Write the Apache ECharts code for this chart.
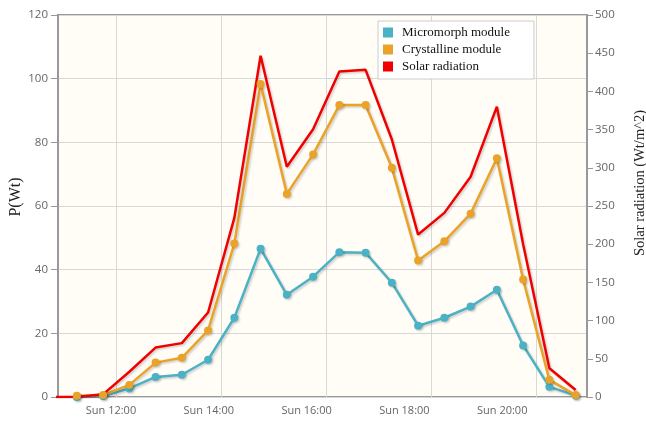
<!DOCTYPE html>
<html>
<head>
<meta charset="utf-8">
<script src="https://cdn.jsdelivr.net/npm/echarts@6/dist/echarts.min.js"></script>
<style>
  html, body { margin: 0; padding: 0; background: #fff; }
  #chart { width: 646px; height: 421px; }
</style>
</head>
<body>
<div id="chart"></div>
<script>
// readings every half hour (Sunday)
var times = ['10:45', '11:15', '11:45', '12:15', '12:45', '13:15', '13:45', '14:15', '14:45', '15:15', '15:45',
    '16:15', '16:45', '17:15', '17:45', '18:15', '18:45', '19:15', '19:45', '20:15', '20:45'];
var micromorph = [null, 0, 0.3, 2.7, 6.3, 7.0, 11.7, 24.9, 46.6, 32.1, 37.8, 45.5, 45.3, 35.9, 22.4, 24.9, 28.4, 33.7, 16.2, 3.2, 0.5];
var crystalline = [null, 0.4, 0.6, 3.8, 10.8, 12.3, 20.9, 48.2, 98.3, 63.8, 76.2, 91.7, 91.7, 72.0, 42.9, 48.9, 57.6, 75.0, 36.9, 5.4, 0.6];
var radiation = [0, 0, 3.5, 33, 64.7, 70.5, 110.6, 234.5, 446.6, 301.4, 350.4, 426, 428.2, 337, 212.6, 241, 288.3, 380, 200, 37.6, 9.2];
var powerTicks = [0, 120, 20];
var radTicks = [0, 500, 50];

function t(hm, sec) {
    var p = hm.split(':');
    return new Date(2024, 0, 7, +p[0], +p[1], sec || 0).getTime();
}
function pairs(vals) {
    return times.map(function (tm, i) { return [t(tm), vals[i]]; });
}
function pad(n) { return n < 10 ? '0' + n : '' + n; }

var myChart = echarts.init(document.getElementById('chart'));
var lineShadow = { shadowColor: 'rgba(0,0,0,0.18)', shadowOffsetX: 1.5, shadowOffsetY: 1.5, shadowBlur: 2 };

var option = {
    backgroundColor: '#fff',
    animation: false,
    grid: {
        left: 58, right: 59, top: 15, bottom: 24,
        outerBoundsMode: 'none',
        containLabel: false,
        show: true, backgroundColor: '#fffdf6', borderColor: '#999', borderWidth: 2
    },
    legend: {
        orient: 'vertical',
        left: 378, top: 21,
        padding: [5, 24, 6, 5],
        itemGap: 4,
        itemWidth: 10, itemHeight: 10,
        icon: 'rect',
        backgroundColor: '#fff',
        borderColor: '#ccc', borderWidth: 1,
        textStyle: { fontFamily: 'Liberation Serif', fontSize: 13, color: '#111', padding: [0, 0, 0, 4] },
        data: ['Micromorph module', 'Crystalline module', 'Solar radiation']
    },
    xAxis: [{
        type: 'time',
        min: t('10:53', 30), max: t('20:58'),
        minInterval: 2.5 * 3600000, maxInterval: 2.5 * 3600000,
        axisLine: { show: false },
        axisTick: { show: false },
        axisLabel: { show: false },
        splitLine: { show: true, lineStyle: { color: '#d8d8d8', width: 1 } }
    }, {
        // label row (sits slightly apart from the grid lines, as in the source)
        type: 'time',
        position: 'bottom',
        min: t('10:55'), max: t('21:44'),
        minInterval: 2.5 * 3600000, maxInterval: 2.5 * 3600000,
        axisLine: { show: false },
        axisTick: { show: false },
        splitLine: { show: false },
        axisLabel: {
            showMinLabel: false, showMaxLabel: false,
            margin: 8,
            fontFamily: 'Open Sans', fontSize: 11, color: '#666',
            formatter: function (v) {
                var d = new Date(v);
                return 'Sun ' + pad(d.getHours()) + ':' + pad(d.getMinutes());
            }
        }
    }],
    yAxis: [{
        type: 'value',
        min: powerTicks[0], max: powerTicks[1], interval: powerTicks[2],
        name: 'P(Wt)',
        nameLocation: 'middle',
        nameRotate: 90,
        nameGap: 34,
        nameMoveOverlap: false,
        nameTextStyle: { fontFamily: 'Liberation Serif', fontSize: 16, color: '#222', padding: [0, 0, 0, 18] },
        axisLine: { show: true, lineStyle: { color: '#999', width: 2 } },
        axisTick: { show: true, length: 7, lineStyle: { color: '#999' } },
        axisLabel: { margin: 10, fontFamily: 'Open Sans', fontSize: 11.5, color: '#666' },
        splitLine: { show: true, lineStyle: { color: '#d8d8d8', width: 1 } }
    }, {
        type: 'value',
        position: 'right',
        min: radTicks[0], max: radTicks[1], interval: radTicks[2],
        name: 'Solar radiation (Wt/m^2)',
        nameLocation: 'middle',
        nameRotate: 90,
        nameGap: 46,
        nameMoveOverlap: false,
        nameTextStyle: { fontFamily: 'Liberation Serif', fontSize: 14.5, color: '#222', padding: [0, 0, 0, 46] },
        axisLine: { show: true, lineStyle: { color: '#999', width: 2 } },
        axisTick: { show: true, length: 6, lineStyle: { color: '#999' } },
        axisLabel: { margin: 8, fontFamily: 'Open Sans', fontSize: 11.5, color: '#666' },
        splitLine: { show: false }
    }],
    series: [{
        name: 'Micromorph module',
        type: 'line',
        xAxisIndex: 0, yAxisIndex: 0,
        clip: true,
        data: pairs(micromorph),
        color: '#4bb2c5',
        symbol: 'circle', symbolSize: 8,
        lineStyle: Object.assign({ width: 2.5 }, lineShadow),
        itemStyle: Object.assign({}, lineShadow)
    }, {
        name: 'Crystalline module',
        type: 'line',
        xAxisIndex: 0, yAxisIndex: 0,
        clip: true,
        data: pairs(crystalline),
        color: '#eaa228',
        symbol: 'circle', symbolSize: 8,
        lineStyle: Object.assign({ width: 2.5 }, lineShadow),
        itemStyle: Object.assign({}, lineShadow)
    }, {
        name: 'Solar radiation',
        type: 'line',
        xAxisIndex: 0, yAxisIndex: 1,
        clip: true,
        data: pairs(radiation),
        color: '#f00000',
        showSymbol: false, symbol: 'none',
        lineStyle: Object.assign({ width: 2.5 }, lineShadow)
    }]
};

myChart.setOption(option);
</script>
</body>
</html>
